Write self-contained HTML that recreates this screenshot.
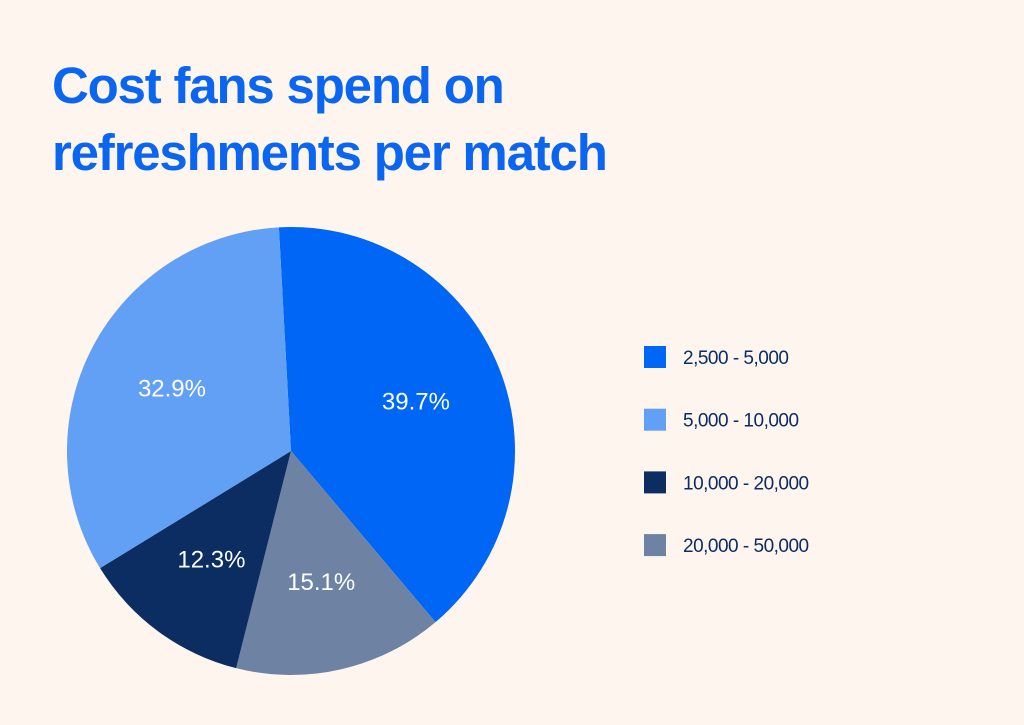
<!DOCTYPE html>
<html><head><meta charset="utf-8"><style>
body{margin:0;background:#fdf5ee;font-family:"Liberation Sans",sans-serif;}
#wrap{position:relative;width:1024px;height:725px;overflow:hidden;background:#fdf5ee;}
h1{position:absolute;left:52px;top:52px;margin:0;font-size:51px;line-height:67px;font-weight:bold;color:#0a66f0;letter-spacing:-1.2px;}
</style></head><body>
<div id="wrap">
<h1>Cost fans spend on<br>refreshments per match</h1>
<svg id="svg" width="1024" height="725" style="position:absolute;left:0;top:0"></svg>
</div>
<script>
const categories=["2,500 - 5,000","5,000 - 10,000","10,000 - 20,000","20,000 - 50,000"];
const values=[39.7,32.9,12.3,15.1];
const colors=["#0066f5","#62a0f5","#0b2d62","#6e83a3"];
const order=[0,3,2,1]; // clockwise drawing order
const svg=document.getElementById('svg');const NS="http://www.w3.org/2000/svg";
const cx=291,cy=451,r=224,start=-3.1;
const total=values.reduce((a,b)=>a+b,0);
function pt(a,rr){const t=a*Math.PI/180;return [cx+rr*Math.sin(t),cy-rr*Math.cos(t)];}
let a=start;
order.forEach(i=>{
  const sweep=values[i]/total*360;
  const p1=pt(a,r),p2=pt(a+sweep,r);
  const path=document.createElementNS(NS,'path');
  path.setAttribute('d',`M${cx},${cy}L${p1[0]},${p1[1]}A${r},${r} 0 ${sweep>180?1:0} 1 ${p2[0]},${p2[1]}Z`);
  path.setAttribute('fill',colors[i]);
  
  
  svg.appendChild(path);
  const m=pt(a+sweep/2,r*0.6);
  const t=document.createElementNS(NS,'text');
  t.setAttribute('x',m[0]);t.setAttribute('y',m[1]+8);
  t.setAttribute('text-anchor','middle');t.setAttribute('fill','#fff');
  t.setAttribute('font-size','24');t.setAttribute('font-family','Liberation Sans, sans-serif');
  t.textContent=values[i].toFixed(1)+'%';
  
  
  svg.appendChild(t);
  a+=sweep;
});
categories.forEach((c,i)=>{
  const y=346+i*62.7;
  const g=document.createElementNS(NS,'g');
  
  
  const rc=document.createElementNS(NS,'rect');
  rc.setAttribute('x',644);rc.setAttribute('y',y);rc.setAttribute('width',22);rc.setAttribute('height',22);rc.setAttribute('fill',colors[i]);
  
  
  const t=document.createElementNS(NS,'text');
  t.setAttribute('x',683);t.setAttribute('y',y+18);t.setAttribute('fill','#0b2d62');
  t.setAttribute('font-size','19');t.setAttribute('font-family','Liberation Sans, sans-serif');t.setAttribute('letter-spacing','-0.5');
  t.textContent=c;
  
  
  g.appendChild(rc);g.appendChild(t);svg.appendChild(g);
});
</script>
</body></html>
